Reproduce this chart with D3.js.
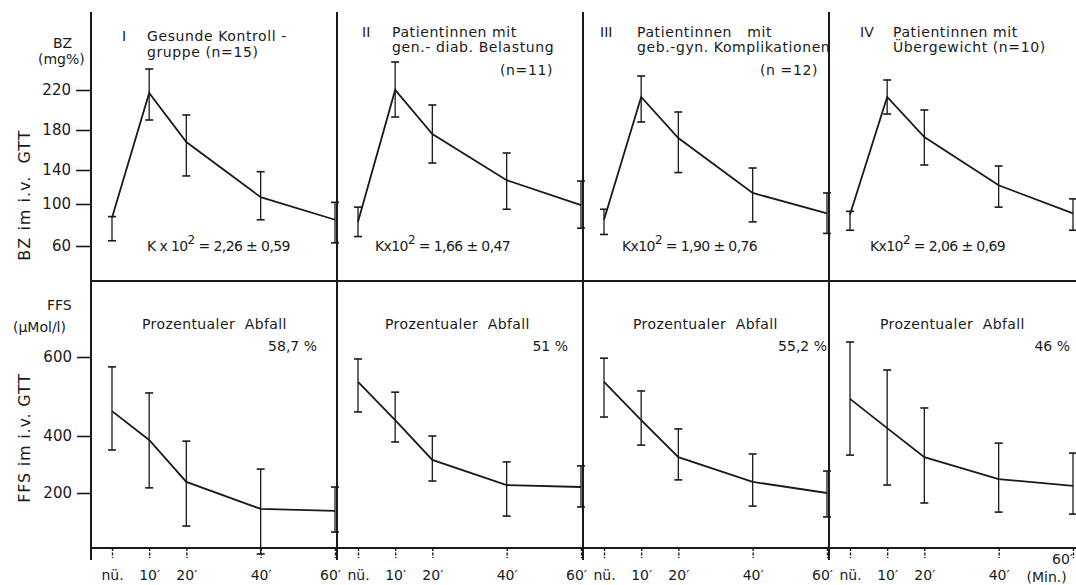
<!DOCTYPE html>
<html>
<head>
<meta charset="utf-8">
<script src="https://cdn.jsdelivr.net/npm/d3@7"></script>
<style>
  body { margin: 0; background: #fff; }
  text { font-family: "DejaVu Sans", sans-serif; fill: #1a1a1a; white-space: pre; }
</style>
</head>
<body>
<script>
// Zeitpunkte (Min.) und Beschriftung
var times = [0, 10, 20, 40, 60];
var timeLabels = ["nü.", "10′", "20′", "40′", "60′"];
var bzTicks = [60, 100, 140, 180, 220];
var ffsTicks = [200, 400, 600];

var groups = ["I", "II", "III", "IV"];
var titleLines = [
  ["Gesunde Kontroll -", "gruppe (n=15)"],
  ["Patientinnen mit", "gen.- diab. Belastung", "(n=11)"],
  ["Patientinnen   mit", "geb.-gyn. Komplikationen", "(n =12)"],
  ["Patientinnen mit", "Übergewicht (n=10)"]
];
var kLabels = ["K x 10", "Kx10", "Kx10", "Kx10"];
var kValues = ["2,26 ± 0,59", "1,66 ± 0,47", "1,90 ± 0,76", "2,06 ± 0,69"];
var drops = ["58,7 %", "51 %", "55,2 %", "46 %"];

// BZ (mg%) - Mittelwert, obere und untere Grenze
var bzMean = [[87, 217, 168, 108, 85], [83, 220, 176, 128, 99], [85, 213, 172, 113, 91], [90, 213, 173, 122, 91]];
var bzHi   = [[88, 241, 195, 138, 102], [97, 248, 205, 157, 127], [95, 234, 198, 142, 113], [93, 230, 200, 144, 106]];
var bzLo   = [[65, 190, 133, 85, 63], [69, 193, 147, 95, 77], [71, 188, 137, 83, 72], [75, 196, 145, 97, 75]];

// FFS (µMol/l)
var ffsMean = [[463, 386, 239, 144, 137], [537, 440, 316, 228, 221], [537, 440, 326, 239, 200], [494, 420, 326, 249, 225]];
var ffsHi   = [[575, 509, 382, 284, 221], [595, 511, 400, 309, 295], [597, 514, 418, 337, 277], [638, 567, 471, 375, 340]];
var ffsLo   = [[351, 218, 84, -14, 63], [461, 379, 242, 119, 151], [448, 368, 246, 154, 116], [333, 228, 165, 133, 126]];

var cfg = {
  w: 1076, h: 585,
  left: 91, panelW: 246,
  top: 12, mid: 281, bottom: 548, lineEnd: 560,
  ink: "#1a1a1a"
};

var svg = d3.select("body").append("svg")
  .attr("width", cfg.w).attr("height", cfg.h);

// y-Skalen (Originalskala leicht ungleichmaessig)
var yTop = d3.scaleLinear().domain(bzTicks).range([246, 204, 170, 130, 90]);
var yBot = d3.scaleLinear().domain(ffsTicks).range([493, 436, 357]);
var x = d3.scaleLinear().domain([0, 60]).range([21, 244]);

var line = function(y){
  return d3.line().x(function(d){return x(d.t);}).y(function(d){return y(d.v);});
};

// Rahmenlinien
svg.append("line").attr("x1", cfg.left).attr("x2", cfg.w).attr("y1", cfg.mid).attr("y2", cfg.mid)
  .style("stroke", cfg.ink).style("stroke-width", 2);
svg.append("line").attr("x1", cfg.left).attr("x2", cfg.w).attr("y1", cfg.bottom).attr("y2", cfg.bottom)
  .style("stroke", cfg.ink).style("stroke-width", 2);
groups.forEach(function(g, i){
  svg.append("line")
    .attr("x1", cfg.left + i*cfg.panelW).attr("x2", cfg.left + i*cfg.panelW)
    .attr("y1", cfg.top).attr("y2", cfg.lineEnd)
    .style("stroke", cfg.ink).style("stroke-width", 2);
});

// y-Achsen
var axT = svg.append("g").attr("transform", "translate(" + cfg.left + ",0)")
  .call(d3.axisLeft(yTop).tickValues(bzTicks).tickSize(15).tickPadding(5));
var axB = svg.append("g").attr("transform", "translate(" + cfg.left + ",0)")
  .call(d3.axisLeft(yBot).tickValues(ffsTicks).tickSize(14).tickPadding(5));
[axT, axB].forEach(function(a){
  a.select(".domain").remove();
  a.selectAll("line").style("stroke", cfg.ink).style("stroke-width", 1.6);
  a.selectAll("text").style("font-size", "15px").style("font-family", "DejaVu Sans").style("fill", cfg.ink);
});

svg.append("text").attr("x", 53).attr("y", 48).style("font-size", "14px").text("BZ");
svg.append("text").attr("x", 38).attr("y", 64).style("font-size", "14px").text("(mg%)");
svg.append("text").attr("x", 47).attr("y", 310).style("font-size", "14px").text("FFS");
svg.append("text").attr("x", 13).attr("y", 332).style("font-size", "14px").text("(µMol/l)");
svg.append("text").attr("transform", "translate(30,195) rotate(-90)")
  .attr("text-anchor", "middle").style("font-size", "16px").style("letter-spacing", "1px")
  .text("BZ im i.v.  GTT");
svg.append("text").attr("transform", "translate(30,438) rotate(-90)")
  .attr("text-anchor", "middle").style("font-size", "16px").style("letter-spacing", "0.8px")
  .text("FFS im i.v. GTT");

var titleLayout = [
  {num: 31, tx: 56, ys: [41, 57]},
  {num: 25, tx: 55, ys: [37, 52, 75], endX: 216},
  {num: 17, tx: 54, ys: [37, 52, 75], endX: 235},
  {num: 31, tx: 64, ys: [37, 52]}
];
var kX = [56, 38, 39, 41];
var pctEnd = [226, 231, 244, 241];

groups.forEach(function(gName, i){
  var g = svg.append("g").attr("transform", "translate(" + (cfg.left + i*cfg.panelW) + ",0)");
  var lay = titleLayout[i];

  // Titel
  g.append("text").attr("x", lay.num).attr("y", lay.ys[0]).style("font-size", "14px").text(gName);
  titleLines[i].forEach(function(s, j){
    var t = g.append("text").attr("y", lay.ys[j]).style("font-size", "14px")
      .style("letter-spacing", "0.6px").text(s);
    if (j == 2) t.attr("x", lay.endX).attr("text-anchor", "end");
    else t.attr("x", lay.tx);
  });

  // K-Wert
  var k = g.append("text").attr("x", kX[i]).attr("y", 251).style("font-size", "14px")
    .style("letter-spacing", "-0.6px");
  k.append("tspan").text(kLabels[i]);
  k.append("tspan").attr("dy", -7).style("font-size", "12px").text("2");
  k.append("tspan").attr("dy", 7).text(" = " + kValues[i]);

  // Prozentualer Abfall
  g.append("text").attr("x", [51, 48, 50, 51][i]).attr("y", 329).style("font-size", "14px")
    .style("letter-spacing", "0.4px").text("Prozentualer  Abfall");
  g.append("text").attr("x", pctEnd[i]).attr("y", 351).attr("text-anchor", "end")
    .style("font-size", "14px").text(drops[i]);

  // Kurven mit Fehlerbalken
  [[yTop, bzMean, bzHi, bzLo], [yBot, ffsMean, ffsHi, ffsLo]].forEach(function(s){
    var y = s[0];
    var pts = times.map(function(t, j){return {t: t, v: s[1][i][j], hi: s[2][i][j], lo: s[3][i][j]};});
    g.append("path").datum(pts).attr("d", line(y))
      .style("fill", "none").style("stroke", cfg.ink).style("stroke-width", 1.8);
    var eb = g.selectAll(null).data(pts).enter().append("g");
    eb.append("line").attr("x1", function(d){return x(d.t);}).attr("x2", function(d){return x(d.t);})
      .attr("y1", function(d){return y(d.hi);}).attr("y2", function(d){return y(d.lo);})
      .style("stroke", cfg.ink).style("stroke-width", 1.3);
    ["hi", "lo"].forEach(function(key){
      eb.append("line").attr("x1", function(d){return x(d.t) - 4;}).attr("x2", function(d){return x(d.t) + 4;})
        .attr("y1", function(d){return y(d[key]);}).attr("y2", function(d){return y(d[key]);})
        .style("stroke", cfg.ink).style("stroke-width", 1.6);
    });
  });

  // x-Achse
  var ax = g.append("g").attr("transform", "translate(0," + cfg.bottom + ")")
    .call(d3.axisBottom(x).tickValues(times).tickFormat(function(d, j){return timeLabels[j];})
      .tickSize(10).tickPadding(12));
  ax.select(".domain").remove();
  ax.selectAll("line").style("stroke", cfg.ink).style("stroke-width", 1.4).style("stroke-dasharray", "3,1.5");
  ax.selectAll("text").style("font-size", "14px").style("font-family", "DejaVu Sans").style("fill", cfg.ink);
  ax.selectAll(".tick text").filter(function(d){return d == 60;})
    .attr("dx", i < 3 ? -5 : -11).attr("y", i < 3 ? 22 : 6);
  if (i == 3) {
    g.append("text").attr("x", x(40) + 48).attr("y", 582).attr("text-anchor", "middle")
      .style("font-size", "14px").text("(Min.)");
  }
});
</script>
</body>
</html>
